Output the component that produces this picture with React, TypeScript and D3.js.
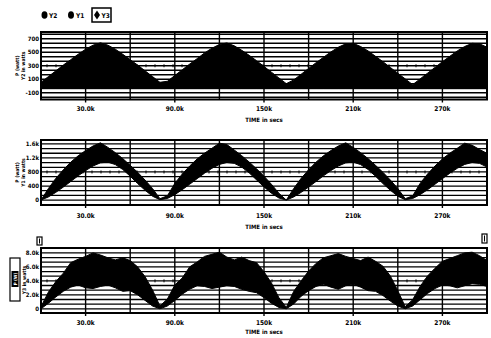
import React from "react";
import * as d3 from "d3";

// time axis, in units of 10^4 seconds (one sample every 5000 s)
const TIME = [
    0, 0.5, 1, 1.5, 2, 2.5, 3, 3.5, 4, 4.5, 5, 5.5, 6, 6.5, 7, 7.5, 8, 8.5, 9, 9.5,
    10, 10.5, 11, 11.5, 12, 12.5, 13, 13.5, 14, 14.5, 15, 15.5, 16, 16.5, 17, 17.5, 18, 18.5, 19, 19.5,
    20, 20.5, 21, 21.5, 22, 22.5, 23, 23.5, 24, 24.5, 25, 25.5, 26, 26.5, 27, 27.5, 28, 28.5, 29, 29.5, 30
];

// Y2 (top panel), watts
const Y2_HIGH = [
    55, 140, 225, 310, 390, 470, 545, 605, 640, 605, 545, 470, 390, 310, 225, 140, 55,
    70, 155, 240, 325, 405, 490, 560, 615, 638, 595, 530, 455, 375, 290, 205, 120, 35,
    90, 175, 260, 345, 425, 505, 575, 625, 632, 585, 520, 440, 360, 275, 190, 105, 20,
    105, 190, 275, 360, 440, 520, 585, 632, 625, 575
];
const Y2_LOW = [
    -40, -40, -40, -40, -40, -40, -40, -40, -40, -40, -40, -40, -40, -40, -40, -40, -40,
    -40, -40, -40, -40, -40, -40, -40, -40, -40, -40, -40, -40, -40, -40, -40, -40, -40,
    -40, -40, -40, -40, -40, -40, -40, -40, -40, -40, -40, -40, -40, -40, -40, -40, -40,
    -40, -40, -40, -40, -40, -40, -40, -40, -40, -40
];

// Y1 (middle panel), watts
const Y1_HIGH = [
    0, 330, 620, 860, 1080, 1260, 1410, 1540, 1630, 1500, 1350, 1180, 990, 790, 570, 330, 40,
    120, 475, 740, 970, 1170, 1335, 1475, 1620, 1580, 1425, 1265, 1085, 890, 680, 450, 195,
    0, 330, 620, 860, 1080, 1260, 1410, 1540, 1630, 1500, 1350, 1180, 990, 790, 570, 330, 40,
    120, 475, 740, 970, 1170, 1335, 1475, 1620, 1560, 1440, 1330
];
const Y1_LOW = [
    0, 90, 220, 370, 530, 690, 840, 970, 1060, 1080, 1010, 870, 680, 470, 280, 110, 10,
    45, 155, 295, 450, 610, 765, 905, 1015, 1070, 1045, 940, 775, 575, 375, 195, 60,
    0, 90, 220, 370, 530, 690, 840, 970, 1060, 1080, 1010, 870, 680, 470, 280, 110, 10,
    45, 155, 295, 450, 610, 765, 905, 1015, 1070, 1045, 940
];

// Y3 (bottom panel), watts
const Y3_HIGH = [
    300, 2400, 3900, 5100, 6600, 7100, 7500, 8000, 7700, 7300, 7000, 7300, 6900, 6000, 4600, 2700, 400,
    1400, 3400, 4400, 6000, 6700, 7500, 7800, 8100, 7400, 7000, 7400, 6900, 6600, 5300, 3700, 1600,
    200, 2500, 4000, 5400, 6500, 7300, 7600, 7900, 7500, 7200, 6900, 7400, 6800, 6100, 4700, 2600, 300,
    1300, 3200, 4700, 5800, 6800, 7200, 7600, 8000, 8100, 7600, 6900
];
const Y3_LOW = [
    0, 800, 1700, 2500, 3100, 3400, 3000, 2900, 3200, 3400, 3000, 2500, 2600, 2000, 1200, 400, 0,
    400, 1200, 2100, 2800, 3300, 3200, 2900, 3100, 3300, 3200, 2800, 2500, 2300, 1600, 800, 200,
    0, 700, 1800, 2600, 3200, 3500, 3100, 2800, 3300, 3500, 3100, 2600, 2500, 1900, 1100, 400, 0,
    400, 1300, 2200, 2900, 3400, 3300, 3000, 3300, 3600, 3500, 3200
];

const X_TICKS = [3, 9, 15, 21, 27];
const X_TICK_LABELS = ["30.0k", "90.0k", "150k", "210k", "270k"];

const Y2_TICKS = [-100, 100, 300, 500, 700];
const Y2_TICK_LABELS = ["-100", "100", "300", "500", "700"];
const Y1_TICKS = [0, 400, 800, 1200, 1600];
const Y1_TICK_LABELS = ["0", "400", "800", "1.2k", "1.6k"];
const Y3_TICKS = [0, 2000, 4000, 6000, 8000];
const Y3_TICK_LABELS = ["0", "2.0k", "4.0k", "6.0k", "8.0k"];

const LEGEND = ["Y2", "Y1", "Y3"];

const FONT = "'Liberation Sans Narrow', 'DejaVu Sans Condensed', 'Liberation Sans', sans-serif";

const panels = [
    {
        name: "Y2", high: Y2_HIGH, low: Y2_LOW, ticks: Y2_TICKS, tickLabels: Y2_TICK_LABELS,
        top: 32, bottom: 99.5, domain: [-200, 800], gridStart: -100, gridStep: 200 / 3, dotted: 300,
        title: ["P (watt)", "Y2 in watts"], tickY: 110.5, xTitleY: 122,
    },
    {
        name: "Y1", high: Y1_HIGH, low: Y1_LOW, ticks: Y1_TICKS, tickLabels: Y1_TICK_LABELS,
        top: 140, bottom: 205, domain: [-140, 1710], gridStart: 0, gridStep: 400 / 3, dotted: 800,
        title: ["P (watt)", "Y1 in watts"], tickY: 217.5, xTitleY: 229,
    },
    {
        name: "Y3", high: Y3_HIGH, low: Y3_LOW, ticks: Y3_TICKS, tickLabels: Y3_TICK_LABELS,
        top: 248, bottom: 313, domain: [-600, 8700], gridStart: 0, gridStep: 2000 / 3, dotted: 4000,
        title: null, tickY: 324.5, xTitleY: 334,
    },
];

const x = d3.scaleLinear().domain([0, 30]).range([41, 487]);

function Panel({p}: {p: any}) {
    const y = d3.scaleLinear().domain(p.domain).range([p.bottom, p.top]);

    // horizontal grid lines, three per tick interval
    const hLines: number[] = [];
    for (let v = p.gridStart; v < p.domain[1]; v += p.gridStep) hLines.push(v);
    for (let v = p.gridStart - p.gridStep; v > p.domain[0]; v -= p.gridStep) hLines.push(v);

    const vLines = d3.range(3, 30, 3);

    const area = d3.area<number>()
        .x((d, i) => x(TIME[i]))
        .y0((d, i) => y(p.low[i]))
        .y1(d => y(d));

    const dots = d3.range(x(0) + 6, x(30) - 2, 9);
    const midY = (p.top + p.bottom) / 2;

    return (
        <g>
            {hLines.map((v, i) => (
                <line key={"h" + i} x1={x(0)} x2={x(30)} y1={y(v)} y2={y(v)} stroke="#000" strokeWidth={1.3} />
            ))}
            {dots.map((d, i) => (
                <line key={"d" + i} x1={d} x2={d} y1={y(p.dotted) - 1.5} y2={y(p.dotted) + 1.5} stroke="#000" strokeWidth={1} />
            ))}
            {vLines.map((t, i) => (
                <line key={"v" + i} x1={x(t)} x2={x(t)} y1={p.top}
                      y2={X_TICKS.includes(t) ? p.bottom + 3 : p.bottom} stroke="#000" strokeWidth={1.4} />
            ))}
            <path d={area(p.high) || ""} fill="#000" stroke="#000" strokeWidth={1} strokeLinejoin="round" />
            <rect x={x(0)} y={p.top} width={x(30) - x(0)} height={p.bottom - p.top}
                  fill="none" stroke="#000" strokeWidth={2} />
            {p.ticks.map((v: number, i: number) => (
                <text key={"yt" + i} x={39} y={y(v)} dy="0.35em" textAnchor="end"
                      fontSize={6} fontWeight="bold" fontFamily={FONT}>{p.tickLabels[i]}</text>
            ))}
            {X_TICKS.map((t, i) => (
                <text key={"xt" + i} x={x(t)} y={p.tickY} textAnchor="middle"
                      fontSize={6.5} fontWeight="bold" fontFamily={FONT}>{X_TICK_LABELS[i]}</text>
            ))}
            <text x={x(15)} y={p.xTitleY} textAnchor="middle" fontSize={6} fontWeight="bold" fontFamily={FONT}>
                TIME in secs
            </text>
            {p.title && (
                <g>
                    <text transform={`translate(19,${midY}) rotate(-90)`} textAnchor="middle"
                          fontSize={5} fontWeight="bold" fontFamily={FONT}>{p.title[0]}</text>
                    <text transform={`translate(25,${midY}) rotate(-90)`} textAnchor="middle"
                          fontSize={5} fontWeight="bold" fontFamily={FONT}>{p.title[1]}</text>
                </g>
            )}
        </g>
    );
}

export default function App() {
    return (
        <svg width={491} height={338} style={{position: "absolute", left: 0, top: 0, background: "#fff"}}>
            <rect width={491} height={338} fill="#fff" />

            {/* legend */}
            <ellipse cx={44.5} cy={15} rx={3} ry={3.8} fill="#000" />
            <text x={49} y={17.5} fontSize={6.5} fontWeight="bold" fontFamily={FONT}>{LEGEND[0]}</text>
            <ellipse cx={71} cy={15} rx={3} ry={3.8} fill="#000" />
            <text x={76} y={17.5} fontSize={6.5} fontWeight="bold" fontFamily={FONT}>{LEGEND[1]}</text>
            <rect x={92} y={8} width={19} height={14} fill="none" stroke="#000" strokeWidth={1.5} />
            <path d="M97,10.5 L100,15 L97,19.5 L94,15 Z" fill="#000" />
            <text x={101.5} y={17.5} fontSize={6.5} fontWeight="bold" fontFamily={FONT}>{LEGEND[2]}</text>

            {panels.map(p => <Panel key={p.name} p={p} />)}

            {/* bottom panel axis label box */}
            <rect x={10} y={258} width={10} height={43} fill="none" stroke="#000" strokeWidth={1.2} />
            <rect x={11.5} y={271} width={7} height={16} fill="#000" />
            <text transform="translate(16.8,279) rotate(-90)" textAnchor="middle" fontSize={4.5}
                  fontWeight="bold" fill="#fff" fontFamily={FONT}>P (W)</text>
            <text transform="translate(25.5,280) rotate(-90)" textAnchor="middle" fontSize={5}
                  fontWeight="bold" fontFamily={FONT}>Y3 in watts</text>

            {/* markers */}
            <rect x={37} y={237} width={5} height={8} fill="none" stroke="#000" strokeWidth={1.2} />
            <line x1={39.5} x2={39.5} y1={238.5} y2={243.5} stroke="#000" strokeWidth={1} />
            <rect x={482} y={234} width={5} height={9} fill="none" stroke="#000" strokeWidth={1.2} />
            <line x1={484.5} x2={484.5} y1={235.5} y2={241.5} stroke="#000" strokeWidth={1} />
        </svg>
    );
}
